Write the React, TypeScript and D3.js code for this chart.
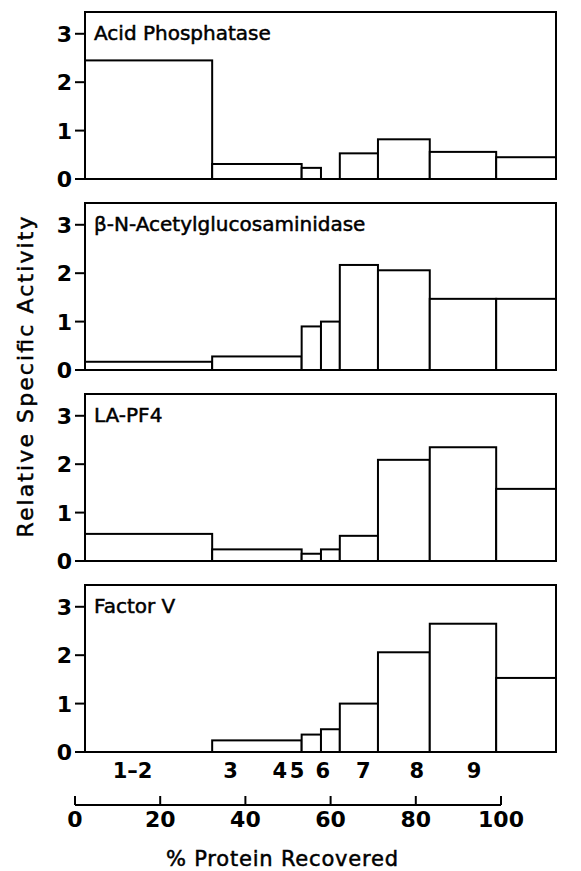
import React from "react";
import * as d3 from "d3";

const fractions = ["1–2", "3", "4", "5", "6", "7", "8", "9"];
const binEdges = [0, 27, 46, 50.1, 54.1, 62.2, 73.2, 87.3, 100];
const panelTitles = ["Acid Phosphatase", "β-N-Acetylglucosaminidase", "LA-PF4", "Factor V"];
const acidPhosphatase = [2.45, 0.31, 0.23, 0, 0.53, 0.82, 0.56, 0.45];
const acetylglucosaminidase = [0.17, 0.28, 0.9, 1.0, 2.17, 2.06, 1.47, 1.47];
const laPF4 = [0.56, 0.24, 0.15, 0.24, 0.52, 2.09, 2.35, 1.49];
const factorV = [0, 0.24, 0.36, 0.47, 1.0, 2.06, 2.65, 1.53];
const yTicks = [0, 1, 2, 3];
const xTicks = [0, 20, 40, 60, 80, 100];

const series = [acidPhosphatase, acetylglucosaminidase, laPF4, factorV];

const W = 581;
const H = 871;
const panelLeft = 85;
const panelRight = 556;
const panelTop0 = 12;
const panelStep = 191;
const panelH = 167;

const xPanel = d3.scaleLinear().domain([0, 100]).range([panelLeft, panelRight]);
const xAxis = d3.scaleLinear().domain([0, 100]).range([75, 501]);
const axisY = 805;

const numFont = "'DejaVu Sans', sans-serif";
const textFont = "'DejaVu Sans', sans-serif";

export default function App() {
  return (
    <svg width={W} height={H} style={{ display: "block", position: "absolute", left: 0, top: 0 }}>
      <rect x={0} y={0} width={W} height={H} fill="white" />
      {series.map((vals, pi) => {
        const top = panelTop0 + pi * panelStep;
        const y = d3.scaleLinear().domain([0, 3.45]).range([top + panelH, top]);
        return (
          <g key={pi}>
            {vals.map((v, i) =>
              v > 0 ? (
                <rect
                  key={i}
                  x={xPanel(binEdges[i])}
                  y={y(v)}
                  width={xPanel(binEdges[i + 1]) - xPanel(binEdges[i])}
                  height={y(0) - y(v)}
                  fill="white"
                  stroke="black"
                  strokeWidth={2}
                />
              ) : null
            )}
            <rect
              x={panelLeft}
              y={top}
              width={panelRight - panelLeft}
              height={panelH}
              fill="none"
              stroke="black"
              strokeWidth={2}
            />
            {yTicks.map((t) => (
              <g key={t}>
                <line x1={75} x2={panelLeft} y1={y(t)} y2={y(t)} stroke="black" strokeWidth={2} />
                <text
                  x={72}
                  y={y(t)}
                  dy="0.36em"
                  textAnchor="end"
                  fontFamily={numFont}
                  fontWeight="bold"
                  fontSize={22}
                >
                  {t}
                </text>
              </g>
            ))}
            <text
              x={94}
              y={top + 28}
              fontFamily={textFont}
              fontSize={20}
              fill="black"
              stroke="black"
              strokeWidth={0.5}
            >
              {panelTitles[pi]}
            </text>
          </g>
        );
      })}
      {fractions.map((f, i) => (
        <text
          key={f}
          x={xAxis((binEdges[i] + binEdges[i + 1]) / 2)}
          y={778}
          textAnchor="middle"
          fontFamily={numFont}
          fontWeight="bold"
          fontSize={21}
        >
          {f}
        </text>
      ))}
      <line x1={xAxis(0)} x2={xAxis(100)} y1={axisY} y2={axisY} stroke="black" strokeWidth={2} />
      {xTicks.map((t) => (
        <g key={t}>
          <line x1={xAxis(t)} x2={xAxis(t)} y1={axisY - 9} y2={axisY} stroke="black" strokeWidth={2} />
          <text
            x={xAxis(t)}
            y={827}
            textAnchor="middle"
            fontFamily={numFont}
            fontWeight="bold"
            fontSize={22}
          >
            {t}
          </text>
        </g>
      ))}
      <text
        x={282}
        y={866}
        textAnchor="middle"
        fontFamily={textFont}
        fontSize={21}
        stroke="black"
        strokeWidth={0.5}
        textLength={232}
        lengthAdjust="spacing"
      >
        % Protein Recovered
      </text>
      <text
        transform={`translate(33, 377) rotate(-90)`}
        textAnchor="middle"
        fontFamily={textFont}
        fontSize={22}
        stroke="black"
        strokeWidth={0.5}
        textLength={321}
        lengthAdjust="spacing"
      >
        Relative Specific Activity
      </text>
    </svg>
  );
}
